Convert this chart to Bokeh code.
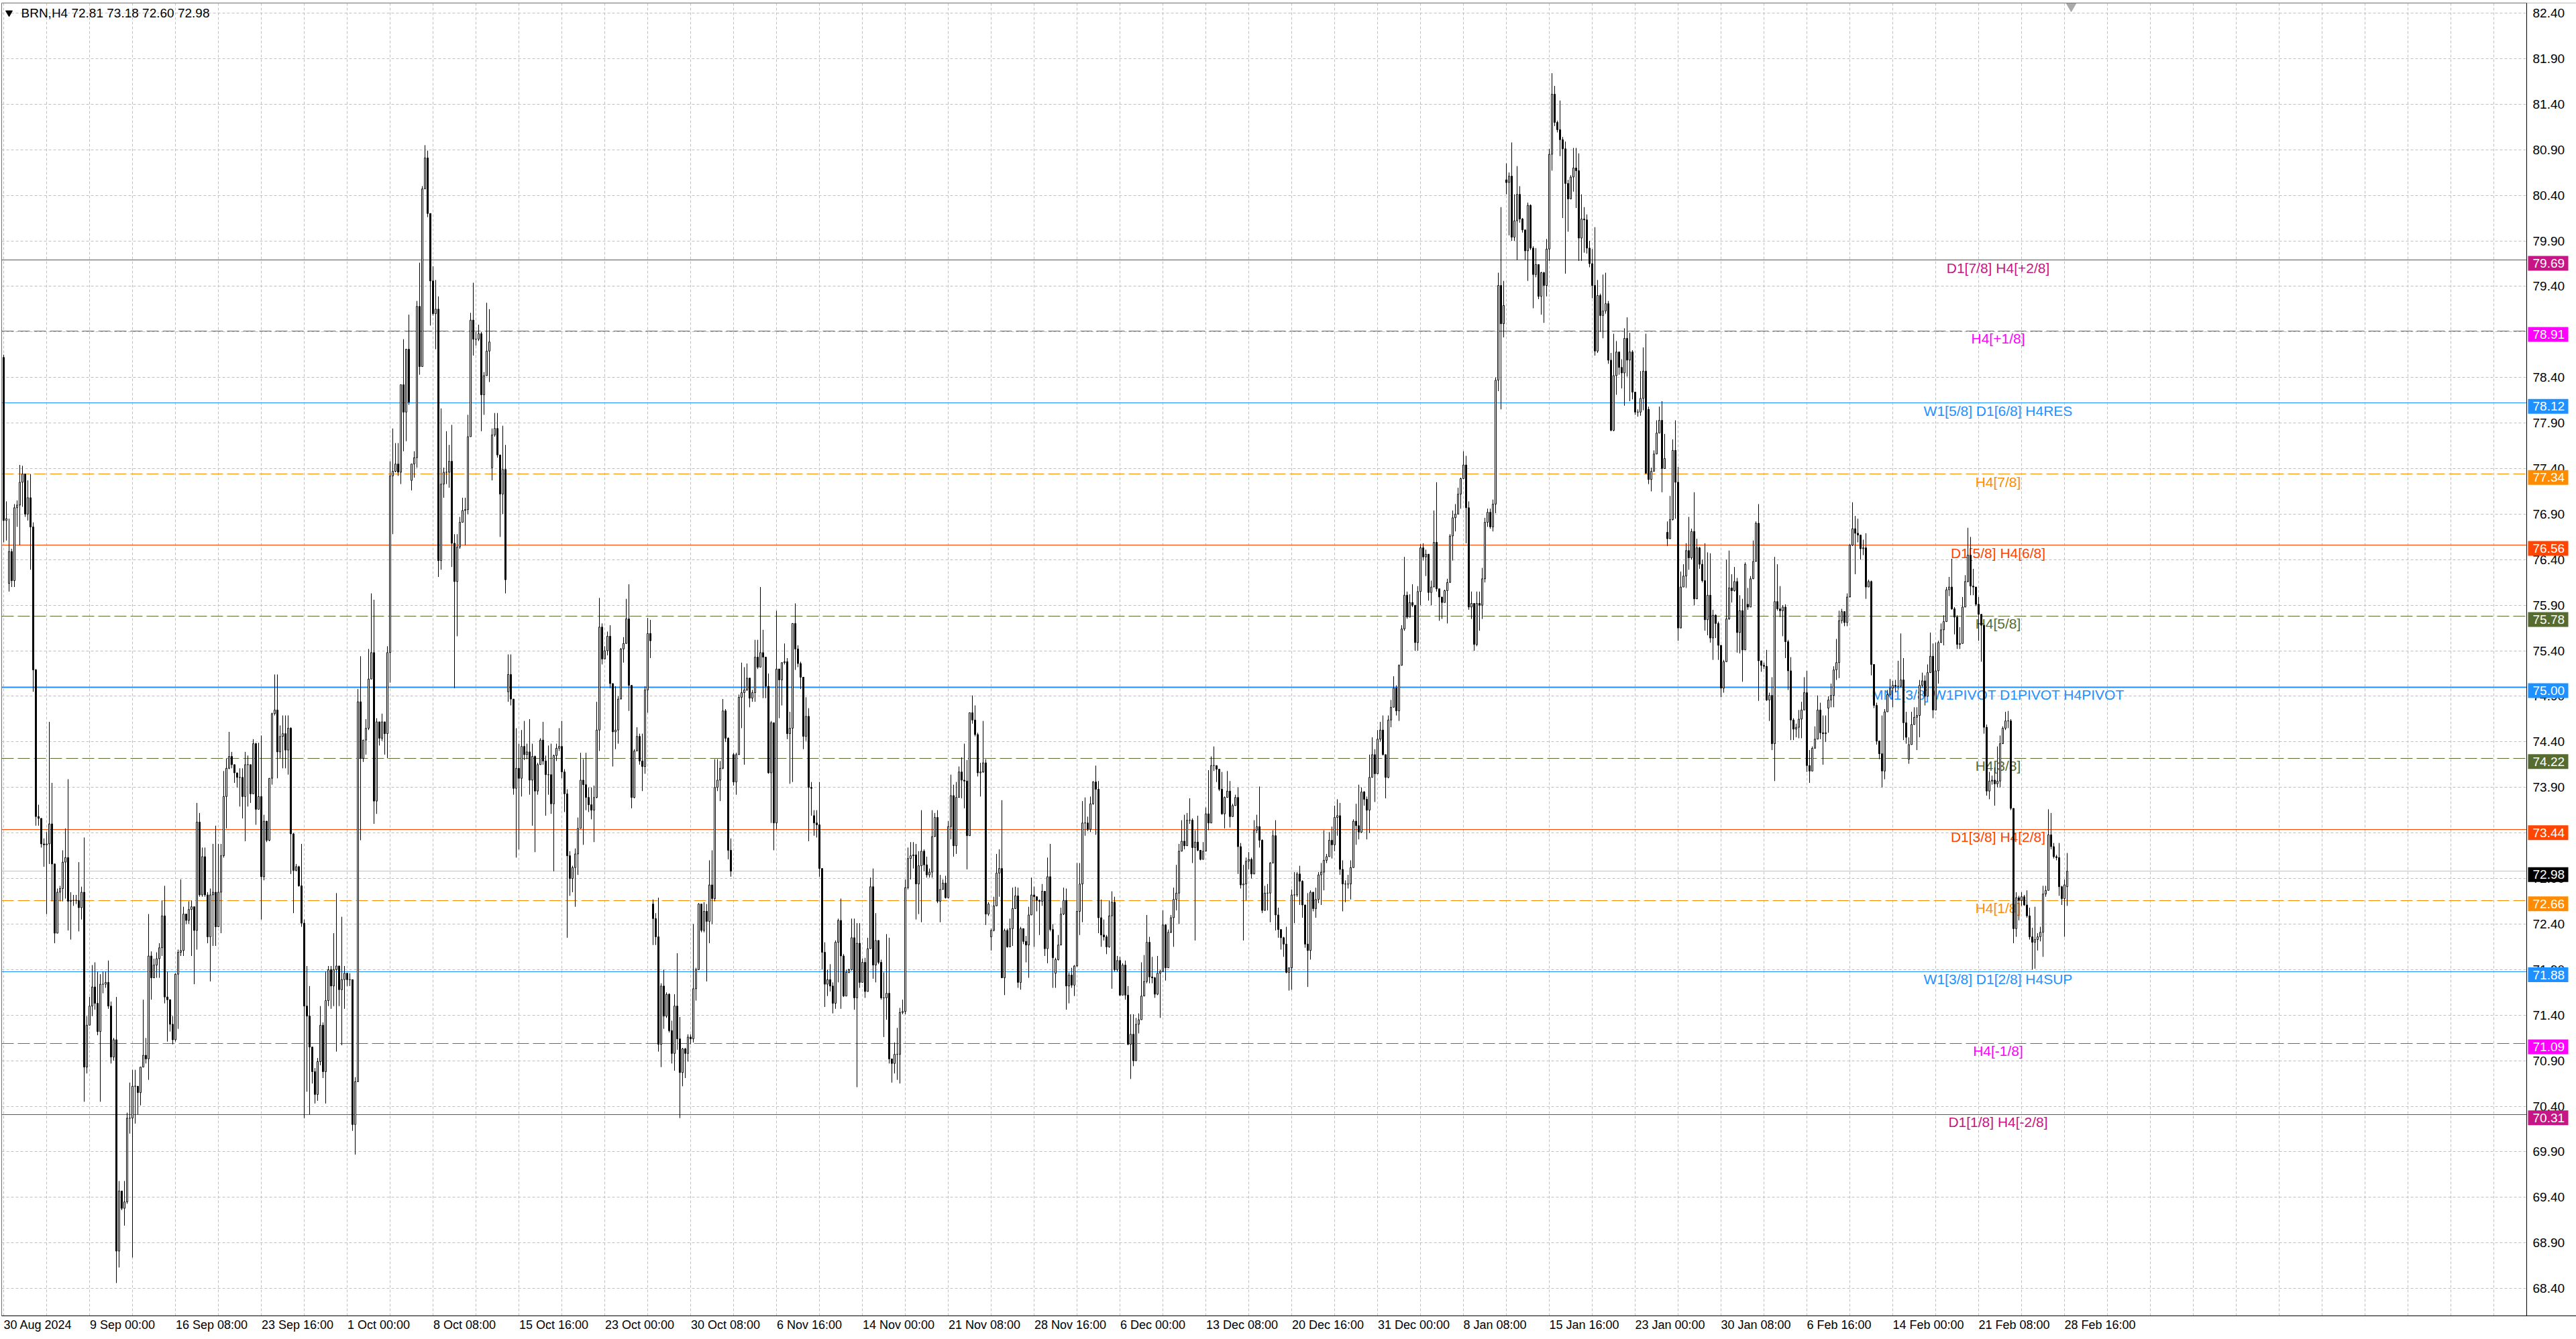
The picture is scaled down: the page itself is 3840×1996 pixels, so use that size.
from bokeh.plotting import figure
from bokeh.models import FixedTicker, Range1d
from bokeh.core.properties import value
from bokeh.embed import file_html
from bokeh.resources import INLINE

# BRN H4 candles (one value per bar, 770 bars)
symbol = "BRN,H4"
firstOpen = 78.62

closes = [
    76.83, 76.85, 76.49, 76.17, 76.97, 77.00, 77.25, 77.34, 76.90, 77.08,
    76.76, 75.19, 73.58, 73.56, 73.28, 73.27, 73.28, 73.50, 73.06, 72.30,
    72.75, 72.79, 73.08, 73.13, 72.65, 72.66, 72.66, 72.66, 72.58, 72.75,
    70.83, 71.29, 71.50, 71.71, 71.53, 71.22, 71.74, 71.74, 71.76, 71.50,
    70.94, 71.13, 68.81, 69.47, 69.28, 69.35, 70.27, 70.27, 70.62, 70.62,
    70.55, 70.83, 70.96, 70.92, 72.05, 71.81, 71.95, 72.02, 72.14, 72.49,
    71.60, 71.57, 71.30, 71.13, 71.85, 72.09, 72.11, 72.51, 72.44, 72.56,
    72.59, 72.33, 73.52, 72.72, 73.14, 72.72, 72.26, 72.72, 72.75, 72.37,
    72.75, 73.15, 73.80, 74.11, 74.24, 74.15, 74.06, 74.01, 74.01, 73.80,
    74.15, 74.15, 73.83, 74.38, 73.66, 73.80, 72.92, 73.53, 73.32, 74.00,
    74.71, 74.75, 74.29, 74.46, 74.49, 74.31, 74.55, 73.39, 72.99, 73.03,
    72.82, 72.41, 71.50, 71.39, 71.05, 70.78, 70.53, 70.89, 71.29, 70.78,
    71.56, 71.90, 71.72, 71.90, 71.94, 71.68, 71.79, 71.86, 71.79, 71.79,
    70.20, 70.67, 74.84, 74.22, 74.42, 74.55, 75.09, 75.38, 73.75, 74.62,
    74.44, 74.62, 74.49, 75.38, 77.32, 77.37, 77.45, 77.36, 78.32, 78.02,
    78.71, 78.13, 77.45, 77.52, 79.18, 78.52, 80.47, 80.81, 80.20, 79.46,
    79.10, 79.15, 76.39, 77.23, 77.36, 77.36, 77.48, 76.58, 76.16, 76.54,
    76.81, 76.94, 76.95, 77.75, 79.03, 78.82, 78.82, 78.88, 78.21, 78.42,
    78.69, 78.79, 77.77, 77.84, 77.55, 77.12, 77.39, 76.18, 75.14, 74.87,
    73.89, 74.11, 74.00, 74.35, 74.26, 74.29, 73.98, 74.24, 73.86, 74.15,
    74.42, 74.19, 74.04, 74.04, 73.72, 74.25, 74.33, 74.35, 74.07, 73.83,
    73.15, 72.90, 73.02, 73.17, 73.45, 73.98, 73.93, 73.79, 73.71, 73.65,
    73.79, 74.53, 75.66, 75.31, 75.40, 75.56, 75.04, 74.51, 74.53, 74.87,
    75.42, 75.48, 75.75, 75.02, 73.79, 74.30, 74.46, 74.19, 74.13, 74.97,
    75.59, 75.51, 72.46, 72.26, 71.08, 71.72, 71.39, 71.63, 71.23, 70.98,
    71.50, 71.14, 70.77, 71.03, 70.98, 71.16, 71.14, 71.69, 71.90, 72.62,
    72.33, 72.54, 72.43, 72.83, 72.68, 73.90, 73.98, 74.11, 74.74, 74.44,
    73.21, 72.98, 73.96, 74.26, 74.89, 74.94, 74.97, 75.10, 74.88, 74.94,
    75.33, 75.22, 75.38, 75.33, 75.01, 74.06, 74.61, 73.51, 75.20, 75.08,
    75.27, 75.28, 74.49, 74.55, 75.70, 75.42, 75.26, 75.11, 74.46, 74.68,
    73.90, 73.89, 73.51, 73.49, 73.01, 72.09, 71.74, 71.79, 71.72, 71.53,
    72.20, 72.44, 72.05, 71.61, 71.87, 71.90, 72.25, 71.59, 72.19, 71.76,
    71.98, 71.66, 72.13, 72.81, 71.95, 72.22, 71.98, 71.59, 71.59, 71.64,
    70.92, 70.87, 70.97, 70.97, 71.43, 71.44, 72.80, 73.12, 73.15, 73.16,
    72.84, 73.04, 73.20, 73.05, 72.94, 72.97, 73.36, 73.57, 72.65, 72.78,
    72.85, 72.69, 73.47, 73.81, 73.26, 73.79, 74.07, 73.98, 73.97, 73.37,
    74.72, 74.64, 74.48, 74.06, 74.07, 74.17, 72.51, 72.62, 72.33, 72.60,
    72.96, 73.01, 71.81, 72.33, 72.15, 72.35, 72.57, 72.71, 71.76, 72.35,
    72.21, 72.17, 72.50, 72.72, 72.70, 72.66, 72.65, 72.76, 72.13, 72.92,
    72.34, 72.03, 72.01, 72.17, 72.51, 72.66, 71.72, 71.84, 71.73, 71.94,
    72.54, 72.84, 73.51, 73.51, 73.44, 73.72, 73.96, 73.88, 72.47, 72.28,
    72.26, 72.15, 72.49, 72.64, 71.90, 72.00, 71.62, 71.95, 71.62, 71.08,
    71.19, 70.90, 71.30, 71.35, 71.61, 71.77, 72.20, 71.82, 71.81, 71.63,
    71.86, 71.88, 72.39, 71.92, 72.31, 72.47, 72.67, 72.74, 73.20, 73.31,
    73.26, 73.54, 73.54, 73.24, 73.30, 73.21, 73.11, 73.20, 73.61, 73.51,
    74.14, 74.14, 74.10, 73.88, 73.61, 73.79, 73.86, 73.58, 73.70, 73.79,
    73.25, 72.83, 72.84, 73.09, 73.11, 72.95, 73.43, 73.47, 73.32, 72.55,
    72.74, 72.74, 73.07, 73.37, 72.50, 72.34, 72.25, 72.18, 71.87, 71.92,
    72.72, 72.72, 72.95, 72.87, 72.61, 72.18, 72.11, 72.75, 72.57, 72.67,
    72.94, 72.97, 73.10, 73.14, 73.32, 73.27, 73.57, 73.59, 73.00, 72.84,
    72.84, 72.84, 73.02, 73.53, 73.48, 73.41, 73.85, 73.77, 73.65, 74.01,
    74.26, 74.05, 74.43, 74.53, 74.26, 74.01, 74.64, 74.78, 74.99, 74.74,
    75.24, 75.64, 76.01, 75.77, 75.93, 75.90, 75.49, 76.05, 76.53, 76.43,
    76.46, 76.04, 76.10, 76.59, 76.08, 75.99, 75.93, 76.06, 76.15, 76.66,
    76.86, 76.90, 77.12, 77.29, 77.44, 76.97, 75.88, 75.92, 75.47, 75.92,
    75.90, 76.19, 76.81, 76.92, 76.76, 77.01, 78.37, 79.41, 78.99, 79.19,
    80.54, 80.61, 79.94, 80.12, 80.41, 80.14, 80.02, 79.79, 80.29, 79.82,
    79.53, 79.64, 79.29, 79.55, 79.41, 79.81, 80.85, 81.51, 81.20, 81.12,
    81.01, 80.91, 80.53, 80.36, 80.60, 80.70, 80.67, 79.93, 80.14, 80.13,
    79.82, 79.65, 79.41, 78.69, 79.30, 79.08, 79.13, 79.21, 78.59, 77.82,
    78.42, 78.68, 78.51, 78.45, 78.83, 78.59, 78.68, 78.24, 78.02, 78.02,
    78.17, 78.47, 77.35, 77.28, 77.37, 77.56, 77.79, 77.93, 77.40, 77.51,
    76.63, 76.84, 77.60, 77.25, 75.65, 76.10, 76.22, 76.50, 76.42, 76.71,
    75.97, 76.53, 76.35, 76.17, 75.74, 76.01, 75.54, 75.79, 75.70, 75.46,
    74.99, 75.28, 75.75, 76.09, 76.06, 76.16, 75.60, 75.84, 75.41, 76.35,
    75.88, 76.19, 76.38, 76.80, 75.29, 75.24, 75.23, 74.86, 74.91, 74.38,
    75.94, 75.86, 75.84, 75.88, 75.50, 75.18, 74.64, 74.54, 74.56, 74.65,
    74.75, 74.94, 74.14, 74.08, 74.33, 74.43, 74.75, 74.50, 74.49, 74.50,
    74.86, 74.91, 75.19, 75.27, 75.73, 75.83, 75.71, 75.99, 76.56, 76.74,
    76.69, 76.67, 76.52, 76.53, 76.10, 76.16, 75.25, 74.80, 74.41, 74.27,
    74.08, 74.73, 74.92, 74.99, 75.02, 75.01, 75.01, 75.08, 74.61, 74.45,
    74.37, 74.59, 74.67, 74.69, 75.02, 75.07, 74.90, 75.16, 75.34, 74.75,
    75.18, 75.49, 75.63, 75.72, 76.07, 76.10, 75.86, 75.77, 75.47, 75.48,
    75.88, 76.16, 76.45, 76.11, 76.10, 75.91, 75.80, 75.68, 74.56, 73.86,
    73.97, 73.98, 73.94, 73.97, 74.38, 74.55, 74.63, 74.63, 73.67, 72.35,
    72.69, 72.66, 72.70, 72.61, 72.49, 72.26, 72.20, 72.23, 72.26, 72.31,
    72.73, 72.77, 73.38, 73.25, 73.14, 73.13, 72.81, 72.68, 72.83, 72.98,
]

highs = [
    78.65, 77.04, 76.85, 76.52, 77.01, 77.05, 77.44, 77.43, 77.11, 77.27,
    77.34, 76.81, 75.20, 73.71, 73.56, 73.34, 73.41, 74.62, 73.95, 73.06,
    72.79, 72.82, 73.21, 73.45, 73.99, 72.75, 72.72, 72.72, 73.08, 72.81,
    73.35, 71.39, 71.60, 71.95, 71.98, 71.88, 71.85, 71.88, 71.88, 72.00,
    71.55, 71.15, 71.60, 69.58, 69.47, 69.58, 70.33, 70.66, 70.80, 70.80,
    70.62, 70.83, 71.57, 71.15, 72.51, 72.10, 72.02, 72.09, 72.19, 72.66,
    72.82, 71.88, 71.57, 71.39, 71.86, 72.12, 72.89, 72.59, 72.51, 72.65,
    72.66, 72.59, 73.73, 73.62, 73.24, 73.24, 72.75, 72.79, 73.28, 73.48,
    73.28, 73.28, 74.08, 74.22, 74.51, 74.29, 74.15, 74.06, 74.11, 74.11,
    74.29, 74.25, 74.01, 74.43, 74.39, 74.39, 74.47, 73.60, 73.53, 74.00,
    74.72, 75.14, 75.14, 74.58, 74.69, 74.69, 74.69, 74.56, 73.40, 73.06,
    73.04, 73.28, 72.45, 71.94, 71.72, 71.05, 70.82, 70.93, 71.50, 71.32,
    71.88, 71.94, 71.94, 72.30, 72.74, 71.94, 72.48, 71.94, 71.86, 71.86,
    71.75, 70.72, 74.98, 75.34, 74.42, 74.65, 75.42, 76.03, 75.96, 74.66,
    74.61, 74.71, 74.62, 75.45, 77.48, 77.84, 77.68, 77.68, 78.32, 78.82,
    78.71, 79.09, 77.45, 77.59, 79.24, 79.66, 80.50, 80.95, 80.89, 80.20,
    79.62, 79.47, 79.29, 78.06, 77.41, 77.81, 77.66, 77.88, 76.68, 76.68,
    76.87, 77.08, 77.08, 77.99, 79.11, 79.44, 78.90, 78.98, 78.90, 78.46,
    79.22, 79.15, 77.84, 78.01, 78.01, 77.55, 77.87, 77.66, 75.36, 75.36,
    74.87, 74.55, 74.38, 74.53, 74.63, 74.38, 74.65, 74.38, 74.25, 74.17,
    74.44, 74.62, 74.25, 74.36, 74.38, 74.26, 74.38, 74.55, 74.63, 74.10,
    73.88, 73.20, 73.04, 73.23, 73.57, 74.28, 74.21, 74.28, 73.90, 73.90,
    73.92, 74.84, 75.98, 75.70, 75.45, 75.61, 75.68, 75.04, 75.01, 74.90,
    75.43, 75.55, 75.97, 76.13, 75.00, 74.32, 74.56, 74.49, 74.49, 75.01,
    75.76, 75.74, 72.67, 72.52, 72.69, 71.75, 71.90, 71.65, 71.64, 71.34,
    71.63, 72.08, 71.38, 71.04, 71.04, 71.19, 71.19, 72.40, 71.92, 72.63,
    72.52, 72.64, 72.62, 73.10, 73.21, 74.21, 74.21, 74.19, 74.87, 74.76,
    74.45, 73.34, 74.28, 74.28, 74.92, 75.27, 75.22, 75.26, 74.97, 74.97,
    75.52, 75.52, 76.10, 75.63, 75.14, 75.15, 74.63, 74.56, 75.84, 75.20,
    75.27, 75.48, 75.32, 74.73, 75.70, 75.92, 75.46, 75.28, 75.11, 74.89,
    74.77, 73.96, 73.65, 73.65, 73.96, 73.01, 72.20, 71.90, 71.96, 71.76,
    72.22, 72.46, 72.68, 72.07, 71.90, 71.91, 72.46, 72.46, 72.41, 72.41,
    72.02, 72.03, 72.25, 72.91, 73.01, 72.52, 72.18, 72.01, 71.87, 72.29,
    72.25, 70.92, 71.10, 71.26, 71.48, 71.57, 72.89, 73.24, 73.30, 73.30,
    73.28, 73.20, 73.65, 73.22, 73.14, 73.01, 73.65, 73.62, 73.65, 72.94,
    72.89, 72.93, 73.53, 74.04, 73.93, 73.96, 74.13, 74.23, 74.38, 74.20,
    74.72, 74.91, 74.80, 74.50, 74.17, 74.63, 74.21, 72.64, 72.35, 72.70,
    73.17, 73.22, 73.76, 72.35, 72.35, 72.46, 72.80, 72.81, 72.80, 72.37,
    72.28, 72.27, 72.59, 72.91, 72.81, 72.70, 72.67, 72.84, 72.76, 73.13,
    73.28, 72.40, 72.03, 72.28, 72.58, 72.80, 72.79, 71.87, 71.92, 71.95,
    73.07, 73.07, 73.75, 73.79, 73.58, 73.80, 73.97, 74.14, 73.97, 72.67,
    72.45, 72.28, 72.66, 72.76, 72.70, 72.05, 72.04, 71.97, 72.00, 71.72,
    71.41, 71.41, 71.37, 71.42, 71.98, 72.06, 72.50, 72.26, 72.04, 71.82,
    72.05, 71.90, 72.55, 72.40, 72.34, 72.50, 72.80, 73.05, 73.28, 73.54,
    73.60, 73.62, 73.78, 73.56, 73.43, 73.59, 73.21, 73.30, 73.68, 74.09,
    74.24, 74.35, 74.12, 74.10, 74.07, 73.80, 74.08, 73.97, 73.72, 73.82,
    73.90, 73.29, 73.05, 73.13, 73.19, 73.13, 73.54, 73.60, 73.91, 73.33,
    72.82, 72.84, 73.08, 73.43, 73.54, 72.58, 72.28, 72.26, 72.37, 71.92,
    72.78, 72.97, 72.97, 73.04, 72.88, 72.60, 72.74, 72.77, 72.75, 72.80,
    72.97, 73.07, 73.43, 73.17, 73.41, 73.47, 73.70, 73.77, 73.73, 73.10,
    72.88, 72.94, 73.10, 73.55, 73.72, 73.93, 73.90, 73.86, 73.80, 74.26,
    74.45, 74.32, 74.53, 74.62, 74.69, 74.26, 74.69, 74.86, 75.12, 75.02,
    75.25, 75.68, 76.43, 76.05, 76.02, 76.13, 75.90, 76.11, 76.57, 76.58,
    76.51, 76.46, 76.17, 76.94, 77.25, 76.08, 75.99, 76.07, 76.19, 76.68,
    76.94, 77.01, 77.19, 77.30, 77.59, 77.54, 77.04, 76.05, 75.92, 76.05,
    76.05, 76.31, 76.86, 76.96, 76.96, 77.06, 78.40, 79.55, 80.27, 79.46,
    80.75, 80.65, 80.98, 80.41, 80.72, 80.50, 80.15, 80.02, 80.32, 80.30,
    79.84, 79.82, 79.56, 79.56, 79.56, 79.92, 80.91, 81.74, 81.60, 81.22,
    81.44, 81.04, 80.99, 80.57, 80.62, 80.92, 80.92, 80.86, 80.41, 80.27,
    80.19, 79.90, 79.81, 80.05, 79.47, 79.32, 79.53, 79.55, 79.24, 78.67,
    78.88, 78.80, 78.68, 78.60, 78.94, 79.06, 78.89, 78.70, 78.24, 78.05,
    78.47, 78.73, 78.88, 78.08, 77.41, 77.60, 77.93, 78.08, 78.14, 77.78,
    76.82, 77.10, 77.72, 77.93, 77.42, 76.27, 76.35, 76.58, 76.87, 76.74,
    77.14, 76.63, 76.54, 76.40, 76.58, 76.48, 76.47, 75.85, 75.80, 75.72,
    75.46, 75.30, 76.40, 76.50, 76.24, 76.32, 76.20, 76.01, 75.97, 76.37,
    76.09, 76.22, 76.61, 76.82, 77.01, 75.29, 75.27, 75.41, 74.94, 75.11,
    76.43, 76.35, 76.11, 75.90, 75.91, 75.52, 75.33, 74.66, 74.60, 74.75,
    74.84, 75.11, 75.18, 74.31, 74.35, 74.57, 74.91, 74.83, 74.69, 74.69,
    74.90, 75.04, 75.23, 75.53, 75.84, 75.86, 75.80, 76.03, 76.57, 77.03,
    76.88, 76.85, 76.65, 76.62, 76.69, 76.18, 76.17, 75.25, 74.83, 74.41,
    74.69, 74.76, 74.97, 75.09, 75.07, 75.08, 75.29, 75.59, 75.32, 74.73,
    74.45, 74.73, 74.78, 74.78, 75.08, 75.16, 75.13, 75.25, 75.60, 75.48,
    75.49, 75.51, 75.70, 75.79, 76.10, 76.21, 76.41, 75.88, 75.79, 75.66,
    75.99, 76.23, 76.75, 76.65, 76.30, 76.10, 75.99, 75.77, 75.68, 74.59,
    74.07, 74.03, 74.12, 74.35, 74.47, 74.57, 74.73, 74.74, 74.65, 73.67,
    72.75, 72.71, 72.75, 72.72, 72.77, 72.58, 72.36, 72.59, 72.30, 72.37,
    72.82, 72.82, 73.66, 73.62, 73.29, 73.16, 73.29, 72.82, 72.89, 73.18,
]

lows = [
    76.59, 76.61, 76.05, 76.10, 76.10, 76.76, 76.56, 76.98, 76.87, 76.83,
    76.29, 74.95, 73.48, 73.48, 73.24, 73.03, 72.51, 73.06, 72.65, 72.19,
    72.30, 72.65, 72.65, 72.68, 72.33, 72.23, 72.60, 72.62, 72.32, 72.45,
    70.45, 70.76, 71.29, 71.39, 71.46, 71.18, 70.45, 71.64, 71.70, 71.47,
    70.87, 70.90, 68.46, 68.63, 69.26, 69.09, 69.33, 70.10, 68.74, 70.21,
    70.31, 70.41, 70.83, 70.87, 70.69, 71.57, 71.84, 71.81, 71.81, 72.05,
    71.53, 71.11, 71.22, 71.08, 71.11, 71.25, 72.05, 72.05, 72.40, 72.40,
    72.05, 71.74, 72.12, 72.70, 72.70, 72.70, 72.19, 71.77, 72.16, 72.16,
    72.37, 72.30, 73.13, 73.45, 74.10, 74.11, 73.95, 73.90, 73.69, 73.56,
    73.31, 73.69, 73.73, 73.83, 73.49, 73.66, 72.45, 72.88, 73.30, 73.31,
    73.93, 74.69, 74.00, 74.22, 74.11, 74.11, 74.04, 72.95, 72.52, 72.98,
    72.81, 72.37, 70.27, 70.56, 70.31, 70.65, 70.43, 70.46, 70.85, 70.71,
    70.43, 71.50, 71.47, 71.50, 71.00, 71.50, 71.07, 71.47, 71.72, 71.72,
    70.13, 69.87, 70.70, 73.32, 74.18, 74.26, 74.53, 75.09, 73.50, 73.61,
    74.36, 74.41, 74.26, 74.22, 75.05, 76.68, 77.36, 77.32, 77.23, 77.59,
    77.70, 78.10, 77.16, 77.30, 77.41, 78.43, 78.52, 80.47, 80.16, 78.97,
    79.08, 78.71, 76.21, 76.29, 77.08, 77.23, 77.19, 76.32, 74.99, 75.56,
    76.52, 76.81, 76.56, 76.90, 77.75, 78.64, 78.75, 78.80, 77.81, 77.99,
    78.42, 78.35, 77.27, 77.75, 77.52, 76.65, 76.90, 76.03, 74.84, 74.80,
    73.82, 73.13, 73.22, 73.80, 74.20, 74.21, 73.82, 73.48, 73.19, 73.82,
    74.15, 74.15, 73.59, 73.82, 73.61, 72.98, 74.19, 74.30, 74.00, 73.63,
    72.25, 72.71, 72.75, 72.59, 72.94, 73.45, 73.27, 73.65, 73.63, 73.55,
    73.30, 73.78, 74.30, 75.25, 75.35, 75.35, 74.99, 74.13, 74.32, 74.38,
    74.97, 75.27, 75.48, 74.74, 73.67, 73.78, 74.34, 74.15, 73.86, 74.05,
    74.72, 75.32, 72.17, 72.17, 71.00, 70.83, 71.25, 71.37, 71.21, 70.87,
    70.79, 71.02, 70.27, 70.62, 70.71, 70.89, 71.08, 71.10, 71.56, 71.91,
    72.31, 72.31, 71.77, 72.19, 72.40, 72.65, 73.86, 73.75, 74.10, 74.40,
    73.11, 72.92, 73.92, 73.82, 74.26, 74.55, 74.15, 74.96, 74.78, 74.84,
    74.84, 75.20, 75.22, 74.88, 74.88, 74.05, 73.51, 73.21, 73.44, 74.66,
    74.80, 75.25, 74.43, 73.94, 73.96, 75.19, 75.22, 74.98, 74.32, 74.41,
    73.31, 73.59, 73.37, 73.35, 72.92, 71.90, 71.49, 71.61, 71.66, 71.42,
    71.47, 71.76, 71.47, 71.60, 71.65, 71.86, 71.89, 71.46, 70.61, 71.70,
    71.94, 71.59, 71.66, 72.13, 71.80, 71.76, 71.96, 71.57, 71.16, 71.35,
    70.87, 70.66, 70.76, 70.69, 70.65, 71.41, 71.41, 72.78, 72.89, 73.01,
    72.45, 72.51, 72.42, 72.98, 72.91, 72.91, 72.91, 73.36, 72.63, 72.42,
    72.78, 72.68, 72.68, 73.33, 73.14, 73.17, 73.79, 73.78, 73.67, 73.00,
    73.39, 74.60, 74.46, 74.02, 73.80, 74.06, 72.39, 72.49, 72.11, 72.32,
    72.60, 72.70, 71.81, 71.62, 72.14, 72.15, 72.16, 72.57, 71.70, 71.68,
    72.18, 71.98, 71.81, 72.50, 72.15, 72.54, 72.28, 72.60, 72.05, 71.97,
    72.32, 71.70, 71.70, 72.00, 72.17, 72.50, 71.46, 71.53, 71.70, 71.61,
    71.93, 72.28, 72.42, 73.37, 73.42, 73.41, 73.71, 73.38, 72.30, 72.15,
    72.22, 72.07, 72.14, 71.69, 71.88, 71.88, 71.61, 71.62, 71.57, 71.07,
    70.70, 70.84, 70.90, 71.20, 71.35, 71.61, 71.75, 71.75, 71.75, 71.59,
    71.62, 71.37, 71.90, 71.78, 71.92, 72.30, 72.15, 72.55, 72.40, 73.20,
    73.22, 73.26, 73.50, 73.07, 72.22, 73.20, 73.10, 73.11, 73.20, 73.43,
    73.51, 74.08, 73.96, 73.86, 73.60, 73.45, 73.79, 73.46, 73.58, 73.70,
    72.95, 72.79, 72.22, 72.66, 73.00, 72.90, 72.95, 73.40, 73.24, 72.52,
    72.55, 72.55, 72.42, 73.07, 72.33, 72.25, 72.12, 72.04, 71.86, 71.67,
    71.68, 72.41, 72.70, 72.61, 72.47, 72.14, 71.71, 72.01, 72.54, 72.47,
    72.63, 72.61, 72.77, 73.07, 73.14, 73.12, 73.20, 73.37, 72.94, 72.54,
    72.64, 72.79, 72.67, 73.02, 73.27, 73.33, 73.40, 73.70, 73.33, 73.40,
    74.04, 73.74, 74.05, 74.40, 74.25, 73.78, 74.00, 74.56, 74.78, 74.69,
    74.63, 75.24, 75.62, 75.75, 75.77, 75.88, 75.40, 75.40, 75.90, 76.39,
    76.22, 75.95, 75.90, 76.10, 76.05, 75.73, 75.75, 75.93, 75.70, 76.15,
    76.39, 76.71, 76.90, 76.96, 77.29, 76.58, 75.85, 75.75, 75.40, 75.45,
    75.62, 75.75, 76.15, 76.76, 76.74, 76.71, 76.91, 78.25, 78.05, 78.84,
    80.41, 79.96, 79.90, 79.90, 79.69, 80.10, 79.99, 79.69, 79.46, 79.80,
    79.16, 79.50, 79.26, 79.09, 79.00, 79.29, 79.68, 80.67, 81.16, 81.09,
    80.83, 80.15, 79.54, 80.00, 80.36, 80.44, 80.26, 79.68, 79.68, 79.77,
    79.76, 79.61, 79.27, 78.64, 78.67, 78.90, 78.83, 79.10, 78.55, 77.81,
    77.81, 78.21, 78.43, 78.28, 78.09, 78.41, 78.14, 78.16, 77.99, 77.97,
    77.98, 78.04, 77.34, 77.23, 77.15, 77.37, 77.56, 77.79, 77.14, 77.40,
    76.55, 76.63, 76.83, 76.85, 75.51, 75.66, 76.10, 76.09, 76.29, 76.40,
    75.90, 75.97, 76.30, 76.15, 75.62, 75.57, 75.49, 75.30, 75.54, 75.30,
    74.89, 74.94, 75.28, 75.74, 75.93, 76.05, 75.38, 75.37, 75.06, 75.41,
    75.85, 75.88, 76.19, 76.38, 74.85, 75.17, 75.20, 74.85, 74.63, 74.31,
    73.97, 75.84, 75.77, 75.56, 75.32, 74.97, 74.42, 74.42, 74.45, 74.44,
    74.44, 74.75, 74.07, 73.95, 74.10, 74.33, 74.43, 74.43, 74.15, 74.40,
    74.50, 74.78, 74.78, 75.08, 75.10, 75.70, 75.67, 75.67, 75.99, 76.55,
    76.24, 76.59, 76.40, 76.45, 75.97, 76.10, 75.13, 74.77, 74.37, 74.21,
    73.90, 73.99, 74.73, 74.90, 74.78, 74.95, 74.97, 75.00, 74.42, 74.38,
    74.16, 74.37, 74.59, 74.31, 74.45, 75.00, 74.80, 74.90, 75.16, 74.66,
    74.75, 75.04, 75.49, 75.46, 75.72, 76.00, 75.85, 75.58, 75.42, 75.42,
    75.48, 75.88, 76.15, 76.01, 76.01, 75.89, 75.51, 75.28, 74.49, 73.81,
    73.77, 73.93, 73.70, 73.90, 73.90, 74.38, 74.53, 74.55, 73.65, 72.19,
    72.26, 72.44, 72.60, 72.60, 72.47, 72.23, 71.90, 71.91, 72.11, 72.21,
    72.04, 72.70, 72.77, 73.22, 73.12, 73.10, 72.71, 72.61, 72.26, 72.60,
]

# bars whose open is not the previous close (gaps)
gapOpens = {2: 76.14, 152: 77.27, 182: 77.41, 188: 74.95, 242: 72.62, 272: 74.26,
            302: 73.59, 368: 72.26, 392: 71.86, 560: 80.57, 613: 78.05, 620: 76.70,
            650: 75.91, 680: 74.77, 710: 74.21, 769: 72.81}

dateTicks = [0, 32, 64, 96, 128, 160, 192, 224, 256, 288, 320, 352, 384,
             416, 448, 480, 512, 544, 576, 608, 640, 672, 704, 736, 768]
dateLabels = ["30 Aug 2024", "9 Sep 00:00", "16 Sep 08:00", "23 Sep 16:00", "1 Oct 00:00",
              "8 Oct 08:00", "15 Oct 16:00", "23 Oct 00:00", "30 Oct 08:00", "6 Nov 16:00",
              "14 Nov 00:00", "21 Nov 08:00", "28 Nov 16:00", "6 Dec 00:00", "13 Dec 08:00",
              "20 Dec 16:00", "31 Dec 00:00", "8 Jan 08:00", "15 Jan 16:00", "23 Jan 00:00",
              "30 Jan 08:00", "6 Feb 16:00", "14 Feb 00:00", "21 Feb 08:00", "28 Feb 16:00"]

priceTicks = [68.40, 68.90, 69.40, 69.90, 70.40, 70.90, 71.40, 71.90, 72.40, 72.90,
              73.40, 73.90, 74.40, 74.90, 75.40, 75.90, 76.40, 76.90, 77.40, 77.90,
              78.40, 78.90, 79.40, 79.90, 80.40, 80.90, 81.40, 81.90, 82.40]
priceLabels = ["68.40", "68.90", "69.40", "69.90", "70.40", "70.90", "71.40", "71.90", "72.40", "72.90",
               "73.40", "73.90", "74.40", "74.90", "75.40", "75.90", "76.40", "76.90", "77.40", "77.90",
               "78.40", "78.90", "79.40", "79.90", "80.40", "80.90", "81.40", "81.90", "82.40"]

# Murrey levels drawn on the chart
levelPrices = [79.69, 78.91, 78.12, 77.34, 76.56, 75.78, 75.00, 74.22, 73.44, 72.66, 71.88, 71.09, 70.31]
levelNames = ["D1[7/8] H4[+2/8]", "H4[+1/8]", "W1[5/8] D1[6/8] H4RES", "H4[7/8]",
              "D1[5/8] H4[6/8]", "H4[5/8]", "MN1[3/8] W1PIVOT D1PIVOT H4PIVOT", "H4[3/8]",
              "D1[3/8] H4[2/8]", "H4[1/8]", "W1[3/8] D1[2/8] H4SUP", "H4[-1/8]", "D1[1/8] H4[-2/8]"]
levelColors = ["#C71585", "#FF00FF", "#1E90FF", "#FF8C00", "#FF4500", "#556B2F", "#1E90FF",
               "#556B2F", "#FF4500", "#FF8C00", "#1E90FF", "#FF00FF", "#C71585"]
levelDashed = [False, True, False, True, False, True, False, True, False, True, False, True, False]
lastPrice = 72.98

FONT = "Liberation Sans"
PX_PER_BAR = 4.0          # MT4 zoom: 4 px per bar
PX_PER_DOLLAR = 135.8     # vertical scale of the screenshot
SCALE_X = 940.25          # right edge of the candle area (bar units)

# rough Arial advance widths, used to left-align the time labels on their ticks
CHAR_W = {":": 0.278, " ": 0.278, "A": 0.667, "S": 0.667, "O": 0.778, "N": 0.722, "D": 0.722,
          "J": 0.5, "F": 0.611, "c": 0.5, "t": 0.278, "v": 0.5}


def textWidth(s, size):
    return sum(CHAR_W.get(ch, 0.556) for ch in s) * size


def buildOpens():
    opens = []
    for i in range(len(closes)):
        if i == 0:
            opens.append(firstOpen)
        else:
            opens.append(gapOpens.get(i, closes[i - 1]))
    return opens


def addCandles(p, opens):
    xs = list(range(len(closes)))
    hi = [max(h, o, c) for h, o, c in zip(highs, opens, closes)]
    lo = [min(l, o, c) for l, o, c in zip(lows, opens, closes)]
    p.segment(x0=xs, y0=lo, x1=xs, y1=hi, line_color="black", line_width=1)

    upX, upTop, upBot, dnX, dnTop, dnBot = [], [], [], [], [], []
    for i, (o, c) in enumerate(zip(opens, closes)):
        if c >= o:
            upX.append(i); upTop.append(c); upBot.append(o)
        else:
            dnX.append(i); dnTop.append(o); dnBot.append(c)
    p.vbar(x=upX, width=0.5, top=upTop, bottom=upBot, fill_color="white", line_color="black", line_width=1)
    p.vbar(x=dnX, width=0.5, top=dnTop, bottom=dnBot, fill_color="black", line_color="black", line_width=1)


def addPriceScale(p):
    # MT4-style price scale on the right: white strip, axis line, tick labels, coloured boxes
    p.quad(left=SCALE_X, right=960, bottom=67.5, top=83.0, fill_color="white", line_color=None)
    p.vspan(x=SCALE_X, line_color="black", line_width=1)
    labelX = SCALE_X + 9 / PX_PER_BAR
    p.text(x=[labelX] * len(priceTicks), y=priceTicks, text=priceLabels, text_font=value(FONT),
           text_font_size="19px", text_color="black", text_align="left", text_baseline="middle")

    boxPrices = levelPrices + [lastPrice]
    boxColors = levelColors + ["black"]
    boxY = [pr - 5 / PX_PER_DOLLAR for pr in boxPrices]
    p.rect(x=[SCALE_X + 32 / PX_PER_BAR] * len(boxPrices), y=boxY, width=60, height=22,
           width_units="screen", height_units="screen", fill_color=boxColors, line_color=None)
    p.text(x=[labelX] * len(boxPrices), y=boxY, text=["%.2f" % pr for pr in boxPrices],
           text_font=value(FONT), text_font_size="19px", text_color="white",
           text_align="left", text_baseline="middle")


def createChart():
    p = figure(width=3840, height=1996, output_backend="svg", toolbar_location=None,
               x_range=Range1d(-0.75, 958.75), y_range=Range1d(68.0994, 82.5105),
               x_axis_location="below", y_axis_location=None,
               min_border_left=2, min_border_top=4, min_border_right=0, min_border_bottom=35)
    p.background_fill_color = "white"
    p.border_fill_color = "white"
    p.outline_line_color = "#6e6e6e"

    # grid like MT4: dotted light gray
    p.xgrid.ticker = FixedTicker(ticks=list(range(0, 941, 16)))
    p.ygrid.ticker = FixedTicker(ticks=priceTicks)
    for g in (p.xgrid, p.ygrid):
        g.grid_line_color = "#c0c0c0"
        g.grid_line_dash = "4 3"
        g.grid_line_width = 1

    # time axis; labels start at their tick like MT4, so the tick sits at the label centre
    fontSize = 18
    shifted = [t + round(textWidth(s, fontSize) / 2 / PX_PER_BAR * 4) / 4 for t, s in zip(dateTicks, dateLabels)]
    p.xaxis.ticker = FixedTicker(ticks=shifted)
    p.xaxis.major_label_overrides = {t: s for t, s in zip(shifted, dateLabels)}
    p.xaxis.major_label_text_font = FONT
    p.xaxis.major_label_text_font_size = "%dpx" % fontSize
    p.xaxis.major_label_text_color = "black"
    p.xaxis.major_tick_out = 0
    p.xaxis.major_tick_in = 0
    p.xaxis.minor_tick_line_color = None
    p.xaxis.major_label_standoff = 3
    p.xaxis.axis_line_color = "black"

    # level lines + names (behind the candles)
    for price, color, dashed in zip(levelPrices, levelColors, levelDashed):
        p.hspan(y=price, line_color=color, line_width=2 if price == 75.00 else 1.2,
                line_dash="18 6" if dashed else "solid")
    p.hspan(y=lastPrice, line_color="#c0c0c0", line_width=1)
    p.text(x=[743.25] * len(levelPrices), y=levelPrices, text=levelNames, text_color=levelColors,
           text_font=value(FONT), text_font_size="21px", text_align="center", text_baseline="top")

    opens = buildOpens()
    addCandles(p, opens)
    addPriceScale(p)

    # header line and chart markers
    head = "%s  %.2f %.2f %.2f %.2f" % (symbol, opens[-1], highs[-1], lows[-1], closes[-1])
    p.text(x=[6.5], y=[82.474], text=[head], text_font=value(FONT), text_font_size="19px",
           text_color="black", text_baseline="top", text_align="left")
    p.scatter(x=[2.0], y=[82.404], marker="inverted_triangle", size=10, color="black")
    p.scatter(x=[770.5], y=[82.474], marker="inverted_triangle", size=14, color="#a9a9a9")
    return p


p = createChart()
open("out.html", "w").write(file_html(p, INLINE))
